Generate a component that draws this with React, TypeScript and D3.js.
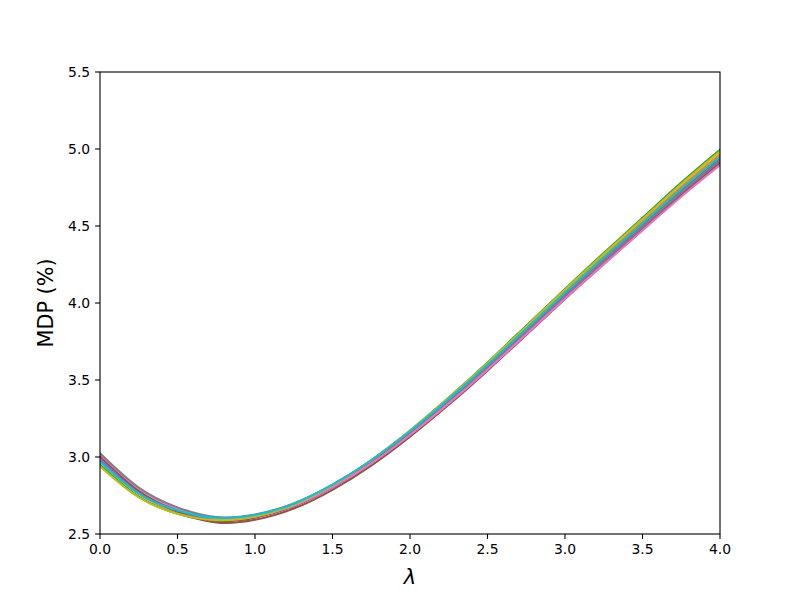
import React from "react";
import * as d3 from "d3";

const lambdas = [0, 0.25, 0.5, 0.75, 1.0, 1.25, 1.5, 1.75, 2.0, 2.25, 2.5, 2.75, 3.0, 3.25, 3.5, 3.75, 4.0];

const sBlue = [2.98, 2.768, 2.652, 2.6, 2.618, 2.69, 2.813, 2.971, 3.158, 3.366, 3.589, 3.822, 4.054, 4.282, 4.505, 4.727, 4.935];
const sOrange = [2.97, 2.76, 2.645, 2.595, 2.615, 2.691, 2.816, 2.977, 3.167, 3.377, 3.603, 3.838, 4.073, 4.304, 4.529, 4.755, 4.965];
const sGreen = [2.95, 2.743, 2.632, 2.585, 2.608, 2.687, 2.815, 2.979, 3.172, 3.386, 3.614, 3.853, 4.091, 4.325, 4.553, 4.782, 4.995];
const sRed = [3.0, 2.778, 2.652, 2.59, 2.608, 2.68, 2.803, 2.961, 3.148, 3.356, 3.579, 3.812, 4.044, 4.272, 4.495, 4.717, 4.925];
const sPurple = [2.99, 2.773, 2.652, 2.595, 2.612, 2.683, 2.805, 2.961, 3.148, 3.354, 3.576, 3.807, 4.039, 4.265, 4.487, 4.708, 4.915];
const sBrown = [3.01, 2.78, 2.645, 2.575, 2.592, 2.665, 2.787, 2.944, 3.132, 3.339, 3.561, 3.793, 4.026, 4.253, 4.475, 4.698, 4.905];
const sPink = [3.02, 2.795, 2.665, 2.6, 2.615, 2.684, 2.804, 2.958, 3.143, 3.348, 3.567, 3.797, 4.027, 4.251, 4.471, 4.69, 4.895];
const sGray = [3.025, 2.802, 2.673, 2.61, 2.627, 2.698, 2.82, 2.976, 3.163, 3.369, 3.591, 3.822, 4.054, 4.28, 4.502, 4.723, 4.93];
const sOlive = [2.94, 2.738, 2.632, 2.59, 2.612, 2.69, 2.817, 2.98, 3.172, 3.384, 3.611, 3.848, 4.086, 4.318, 4.545, 4.773, 4.985];
const sCyan = [2.97, 2.763, 2.652, 2.605, 2.623, 2.697, 2.82, 2.979, 3.167, 3.376, 3.599, 3.833, 4.066, 4.295, 4.518, 4.742, 4.95];

const seriesList = [sBlue, sOrange, sGreen, sRed, sPurple, sBrown, sPink, sGray, sOlive, sCyan];
const colors = ["#1f77b4", "#ff7f0e", "#2ca02c", "#d62728", "#9467bd", "#8c564b", "#e377c2", "#7f7f7f", "#bcbd22", "#17becf"];

const xTicks = [0, 0.5, 1.0, 1.5, 2.0, 2.5, 3.0, 3.5, 4.0];
const yTicks = [2.5, 3.0, 3.5, 4.0, 4.5, 5.0, 5.5];

export default function App() {
  const W = 800, H = 600;
  const left = 100, right = 720, top = 72, bottom = 534;
  const x = d3.scaleLinear().domain([0, 4]).range([left, right]);
  const y = d3.scaleLinear().domain([2.5, 5.5]).range([bottom, top]);
  const line = d3
    .line<number>()
    .x((_, i) => x(lambdas[i]))
    .y((d) => y(d))
    .curve(d3.curveNatural);
  const font = "'DejaVu Sans', sans-serif";
  return (
    <svg width={W} height={H} style={{ position: "absolute", left: 0, top: 0, background: "#fff" }} fontFamily={font}>
      <rect x={0} y={0} width={W} height={H} fill="#fff" />
      <defs>
        <clipPath id="clip">
          <rect x={left} y={top} width={right - left} height={bottom - top} />
        </clipPath>
      </defs>
      <g clipPath="url(#clip)">
        {seriesList.map((s, i) => (
          <path key={i} d={line(s) || ""} fill="none" stroke={colors[i]} strokeWidth={2.08} strokeLinecap="square" />
        ))}
      </g>
      <rect x={left} y={top} width={right - left} height={bottom - top} fill="none" stroke="#000" strokeWidth={1.1} />
      {xTicks.map((t) => (
        <g key={"x" + t}>
          <line x1={x(t)} x2={x(t)} y1={bottom} y2={bottom + 4.9} stroke="#000" strokeWidth={1.1} />
          <text x={x(t)} y={bottom + 20} fontSize={13.9} textAnchor="middle" fill="#000">
            {t.toFixed(1)}
          </text>
        </g>
      ))}
      {yTicks.map((t) => (
        <g key={"y" + t}>
          <line x1={left - 4.9} x2={left} y1={y(t)} y2={y(t)} stroke="#000" strokeWidth={1.1} />
          <text x={left - 9.8} y={y(t)} dy="0.36em" fontSize={13.9} textAnchor="end" fill="#000">
            {t.toFixed(1)}
          </text>
        </g>
      ))}
      <text x={(left + right) / 2} y={584} fontSize={21} fontStyle="italic" textAnchor="middle" fill="#000">
        λ
      </text>
      <text
        transform={`translate(53, ${(top + bottom) / 2}) rotate(-90)`}
        fontSize={20.8}
        textAnchor="middle"
        fill="#000"
      >
        MDP (%)
      </text>
    </svg>
  );
}
